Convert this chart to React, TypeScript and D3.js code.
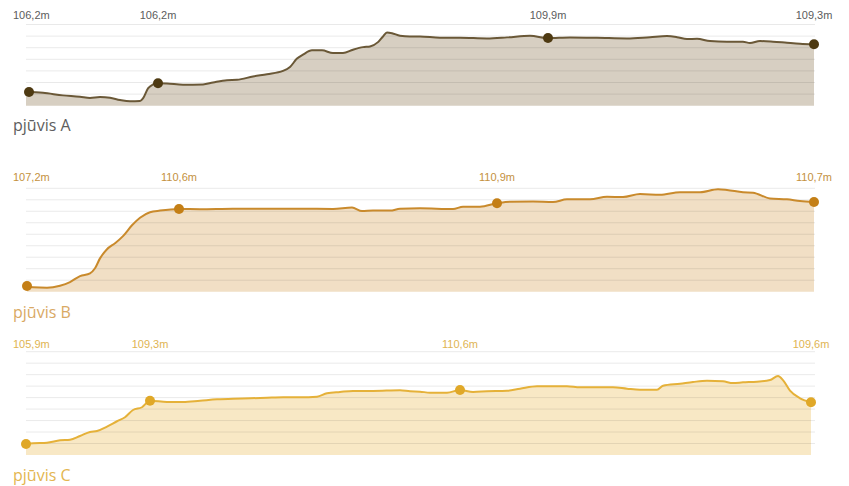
import React from "react";
import * as d3 from "d3";

// ---------- DATA ----------
// Distance along profile (m) and elevation (m)
const distA = [0, 17, 37, 54, 64, 74, 84, 94, 104, 114, 117, 122, 127, 132, 141, 157, 177, 187, 201, 211, 227, 241, 257, 264, 271, 277, 286, 296, 307, 317, 327, 337, 344, 352, 357, 361, 366, 374, 384, 394, 414, 434, 461, 481, 504, 522, 544, 571, 601, 624, 641, 651, 661, 671, 684, 701, 717, 724, 734, 747, 761, 774, 788];
const elevA = [105.2, 105.11, 104.89, 104.77, 104.66, 104.74, 104.68, 104.49, 104.38, 104.4, 104.63, 105.49, 105.83, 105.94, 105.92, 105.8, 105.83, 106.0, 106.2, 106.23, 106.52, 106.72, 107.0, 107.34, 108.06, 108.4, 108.77, 108.77, 108.54, 108.54, 108.83, 109.05, 109.11, 109.48, 109.97, 110.31, 110.25, 110.03, 109.97, 109.97, 109.86, 109.86, 109.8, 109.89, 110.03, 109.83, 109.89, 109.86, 109.8, 109.91, 110.0, 109.91, 109.74, 109.77, 109.57, 109.52, 109.52, 109.4, 109.57, 109.52, 109.43, 109.35, 109.29];
const markA = [3, 132, 522, 788];
const labelsA = ["106,2m", "106,2m", "109,9m", "109,3m"];

const distB = [1, 7, 21, 34, 44, 54, 64, 69, 74, 81, 89, 97, 106, 114, 124, 134, 153, 174, 207, 241, 274, 307, 326, 336, 347, 364, 374, 394, 427, 437, 454, 471, 484, 507, 527, 541, 564, 581, 597, 614, 634, 654, 674, 692, 701, 717, 727, 744, 761, 774, 788];
const elevB = [107.25, 107.19, 107.17, 107.26, 107.42, 107.68, 107.8, 108.02, 108.45, 108.85, 109.11, 109.42, 109.89, 110.22, 110.46, 110.53, 110.6, 110.59, 110.61, 110.61, 110.61, 110.6, 110.66, 110.51, 110.53, 110.53, 110.61, 110.63, 110.6, 110.7, 110.7, 110.85, 110.92, 110.93, 110.9, 111.02, 111.02, 111.13, 111.12, 111.25, 111.22, 111.33, 111.33, 111.46, 111.43, 111.33, 111.31, 111.06, 111.02, 110.95, 110.9];
const markB = [1, 153, 471, 788];
const labelsB = ["107,2m", "110,6m", "110,9m", "110,7m"];

const distC = [0, 7, 21, 34, 44, 54, 64, 71, 81, 91, 99, 107, 116, 124, 141, 157, 174, 191, 207, 224, 241, 257, 274, 291, 301, 314, 327, 347, 374, 384, 394, 404, 421, 434, 447, 461, 481, 494, 511, 541, 554, 587, 601, 614, 631, 637, 654, 667, 681, 697, 707, 717, 731, 744, 752, 757, 764, 774, 785];
const elevC = [105.96, 106.02, 106.07, 106.28, 106.33, 106.66, 107.01, 107.09, 107.47, 107.94, 108.29, 108.92, 109.16, 109.73, 109.62, 109.62, 109.73, 109.85, 109.91, 109.94, 109.99, 110.03, 110.03, 110.08, 110.38, 110.49, 110.58, 110.58, 110.64, 110.55, 110.52, 110.43, 110.43, 110.66, 110.49, 110.55, 110.6, 110.78, 110.99, 110.99, 110.9, 110.9, 110.78, 110.69, 110.69, 111.04, 111.21, 111.36, 111.47, 111.42, 111.27, 111.33, 111.39, 111.53, 111.88, 111.53, 110.6, 109.94, 109.59];
const markC = [0, 124, 434, 785];
const labelsC = ["105,9m", "109,3m", "110,6m", "109,6m"];

const titles = ["pjūvis A", "pjūvis B", "pjūvis C"];

// ---------- LAYOUT / STYLE ----------
const W = 849;
const H = 486;
const X0 = 26;
const X1 = 815;
const DIST_MAX = 789;

type Panel = {
  dist: number[];
  elev: number[];
  marks: number[];
  labels: string[];
  title: string;
  top: number;
  bottom: number;
  domain: [number, number];
  step: number;
  labelY: number;
  titleY: number;
  line: string;
  fill: string;
  dot: string;
  labelColor: string;
  titleColor: string;
};

const panels: Panel[] = [
  {
    dist: distA, elev: elevA, marks: markA, labels: labelsA, title: titles[0],
    top: 24.5, bottom: 105.7, domain: [104, 111], step: 1,
    labelY: 18.5, titleY: 131,
    line: "#6a5837", fill: "#d7cfc2", dot: "#4e3a12", labelColor: "#5c5c5c", titleColor: "#5e5e5e",
  },
  {
    dist: distB, elev: elevB, marks: markB, labels: labelsB, title: titles[1],
    top: 188.3, bottom: 291.7, domain: [107, 111.5], step: 0.5,
    labelY: 181, titleY: 318,
    line: "#c98a2c", fill: "#f1dfc5", dot: "#c47f16", labelColor: "#c49140", titleColor: "#d9a964",
  },
  {
    dist: distC, elev: elevC, marks: markC, labels: labelsC, title: titles[2],
    top: 351.7, bottom: 455, domain: [105, 114], step: 1,
    labelY: 347.5, titleY: 481,
    line: "#e5b139", fill: "#f8e8c5", dot: "#e0a828", labelColor: "#e0b452", titleColor: "#e3b650",
  },
];

const x = d3.scaleLinear().domain([0, DIST_MAX]).range([X0, X1]);

function ProfilePanel({ p }: { p: Panel }) {
  const y = d3.scaleLinear().domain(p.domain).range([p.bottom, p.top]);
  const pts = p.dist.map((d, i) => [d, p.elev[i]] as [number, number]);
  const area = d3
    .area<[number, number]>()
    .x((d) => x(d[0]))
    .y0(p.bottom)
    .y1((d) => y(d[1]))
    .curve(d3.curveMonotoneX);
  const line = d3
    .line<[number, number]>()
    .x((d) => x(d[0]))
    .y((d) => y(d[1]))
    .curve(d3.curveMonotoneX);
  const grid = d3.range(p.domain[0] + p.step, p.domain[1] + p.step / 2, p.step);
  const bis = d3.bisector((d: [number, number]) => d[0]).left;
  const elevAt = (d: number) => {
    const i = Math.min(Math.max(bis(pts, d), 1), pts.length - 1);
    const a = pts[i - 1];
    const b = pts[i];
    const t = (d - a[0]) / (b[0] - a[0] || 1);
    return a[1] + (b[1] - a[1]) * Math.max(0, Math.min(1, t));
  };
  return (
    <g>
      <path d={area(pts) || ""} fill={p.fill} />
      {grid.map((g) => (
        <line
          key={g}
          x1={X0}
          x2={X1}
          y1={y(g)}
          y2={y(g)}
          stroke="rgba(0,0,0,0.085)"
          strokeWidth={1}
        />
      ))}
      <path d={line(pts) || ""} fill="none" stroke={p.line} strokeWidth={2} />
      {p.marks.map((m, i) => (
        <circle key={i} cx={x(m)} cy={y(elevAt(m))} r={5} fill={p.dot} />
      ))}
      {p.marks.map((m, i) => (
        <text
          key={"l" + i}
          x={i === 0 ? 13 : x(m)}
          y={p.labelY}
          textAnchor={i === 0 ? "start" : "middle"}
          fontFamily="'Liberation Sans', Arial, sans-serif"
          fontSize={11}
          fill={p.labelColor}
        >
          {p.labels[i]}
        </text>
      ))}
      <text
        x={13}
        y={p.titleY}
        fontFamily="'Open Sans', 'Noto Sans', sans-serif"
        fontSize={16}
        fill={p.titleColor}
      >
        {p.title}
      </text>
    </g>
  );
}

export default function App() {
  return (
    <div style={{ position: "absolute", left: 0, top: 0, width: W, height: H, background: "#fff" }}>
      <svg width={W} height={H} style={{ display: "block" }}>
        <rect width={W} height={H} fill="#fff" />
        {panels.map((p, i) => (
          <ProfilePanel key={i} p={p} />
        ))}
      </svg>
    </div>
  );
}
